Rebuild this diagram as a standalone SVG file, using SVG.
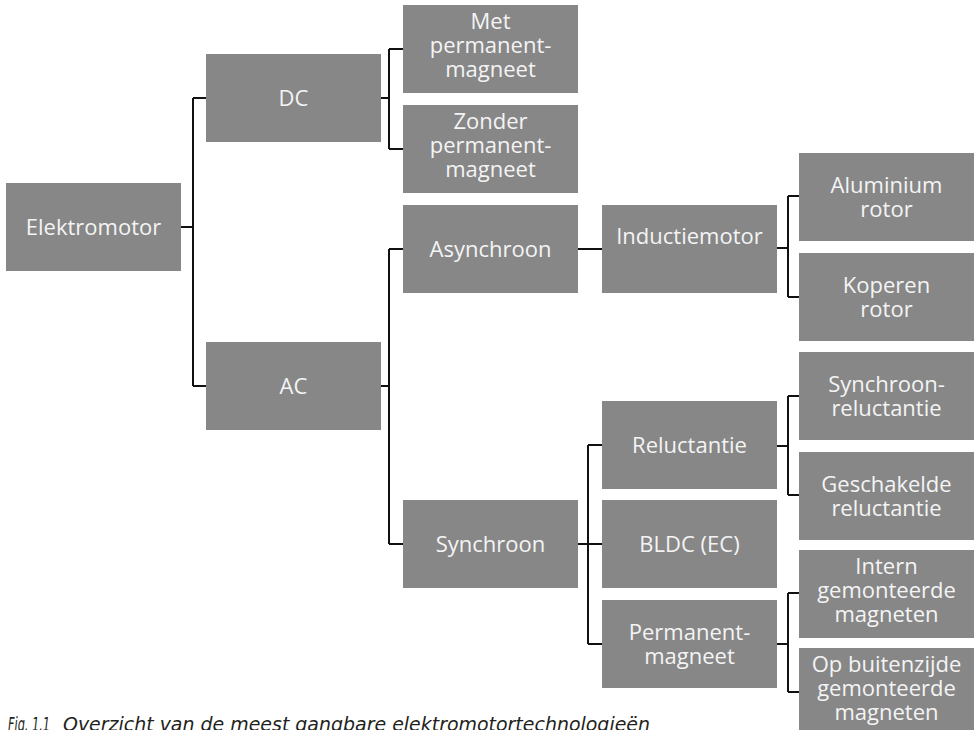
<svg xmlns="http://www.w3.org/2000/svg" width="976" height="730" viewBox="0 0 976 730">
<style>
.box{fill:#878787}
.t{font-family:"Open Sans","Noto Sans",sans-serif;font-size:22px;fill:#f4f4f4;text-anchor:middle}
.c{fill:none;stroke:#111;stroke-width:2}
.cap{font-family:"Liberation Sans Narrow","DejaVu Sans Condensed","Liberation Sans",sans-serif;font-style:italic;font-size:19px;fill:#231f20}
</style>
<rect width="976" height="730" fill="#fff"/>
<g id="connectors" class="c">
<path d="M181 227H193M193 98V386M193 98H206M193 386H206"/>
<path d="M381 98H389M389 49V149M389 49H403M389 149H403"/>
<path d="M381 386H389M389 249V544M389 249H403M389 544H403"/>
<path d="M578 249H602"/>
<path d="M777 248H788M788 196V297M788 196H799M788 297H799"/>
<path d="M578 544H588M588 445V644M588 445H602M588 544H602M588 644H602"/>
<path d="M777 446H788M788 396V495M788 396H799M788 495H799"/>
<path d="M777 644H788M788 593V692M788 593H799M788 692H799"/>
</g>
<g id="elektromotor"><rect class="box" x="6" y="183" width="175" height="88"/><text class="t" x="93.5" y="234.5">Elektromotor</text></g>
<g id="dc"><rect class="box" x="206" y="54" width="175" height="88"/><text class="t" x="293.5" y="105.5">DC</text></g>
<g id="ac"><rect class="box" x="206" y="342" width="175" height="88"/><text class="t" x="293.5" y="393.5">AC</text></g>
<g id="met"><rect class="box" x="403" y="5" width="175" height="88"/><text class="t" x="490.5" y="29">Met</text><text class="t" x="490.5" y="53">permanent-</text><text class="t" x="490.5" y="77">magneet</text></g>
<g id="zonder"><rect class="box" x="403" y="105" width="175" height="88"/><text class="t" x="490.5" y="129">Zonder</text><text class="t" x="490.5" y="153">permanent-</text><text class="t" x="490.5" y="177">magneet</text></g>
<g id="asynchroon"><rect class="box" x="403" y="205" width="175" height="88"/><text class="t" x="490.5" y="256.5">Asynchroon</text></g>
<g id="synchroon"><rect class="box" x="403" y="500" width="175" height="88"/><text class="t" x="490.5" y="551.5">Synchroon</text></g>
<g id="inductiemotor"><rect class="box" x="602" y="205" width="175" height="88"/><text class="t" x="689.5" y="244">Inductiemotor</text></g>
<g id="reluctantie"><rect class="box" x="602" y="401" width="175" height="88"/><text class="t" x="689.5" y="452.5">Reluctantie</text></g>
<g id="bldc"><rect class="box" x="602" y="500" width="175" height="88"/><text class="t" x="689.5" y="551.5">BLDC (EC)</text></g>
<g id="permanentmagneet"><rect class="box" x="602" y="600" width="175" height="88"/><text class="t" x="689.5" y="639.5">Permanent-</text><text class="t" x="689.5" y="663.5">magneet</text></g>
<g id="aluminium"><rect class="box" x="799" y="153" width="175" height="88"/><text class="t" x="886.5" y="192.5">Aluminium</text><text class="t" x="886.5" y="216.5">rotor</text></g>
<g id="koperen"><rect class="box" x="799" y="253" width="175" height="88"/><text class="t" x="886.5" y="292.5">Koperen</text><text class="t" x="886.5" y="316.5">rotor</text></g>
<g id="synchroonreluctantie"><rect class="box" x="799" y="352" width="175" height="88"/><text class="t" x="886.5" y="391.5">Synchroon-</text><text class="t" x="886.5" y="415.5">reluctantie</text></g>
<g id="geschakelde"><rect class="box" x="799" y="452" width="175" height="88"/><text class="t" x="886.5" y="491.5">Geschakelde</text><text class="t" x="886.5" y="515.5">reluctantie</text></g>
<g id="intern"><rect class="box" x="799" y="550" width="175" height="88"/><text class="t" x="886.5" y="574">Intern</text><text class="t" x="886.5" y="598">gemonteerde</text><text class="t" x="886.5" y="622">magneten</text></g>
<g id="opbuitenzijde"><rect class="box" x="799" y="648" width="175" height="88"/><text class="t" x="886.5" y="672">Op buitenzijde</text><text class="t" x="886.5" y="696">gemonteerde</text><text class="t" x="886.5" y="720">magneten</text></g>
<g id="caption"><text class="cap" x="8" y="731" textLength="42" lengthAdjust="spacingAndGlyphs">Fig. 1.1</text><text class="cap" x="63" y="731" textLength="587" lengthAdjust="spacingAndGlyphs">Overzicht van de meest gangbare elektromotortechnologieën</text></g>
</svg>
